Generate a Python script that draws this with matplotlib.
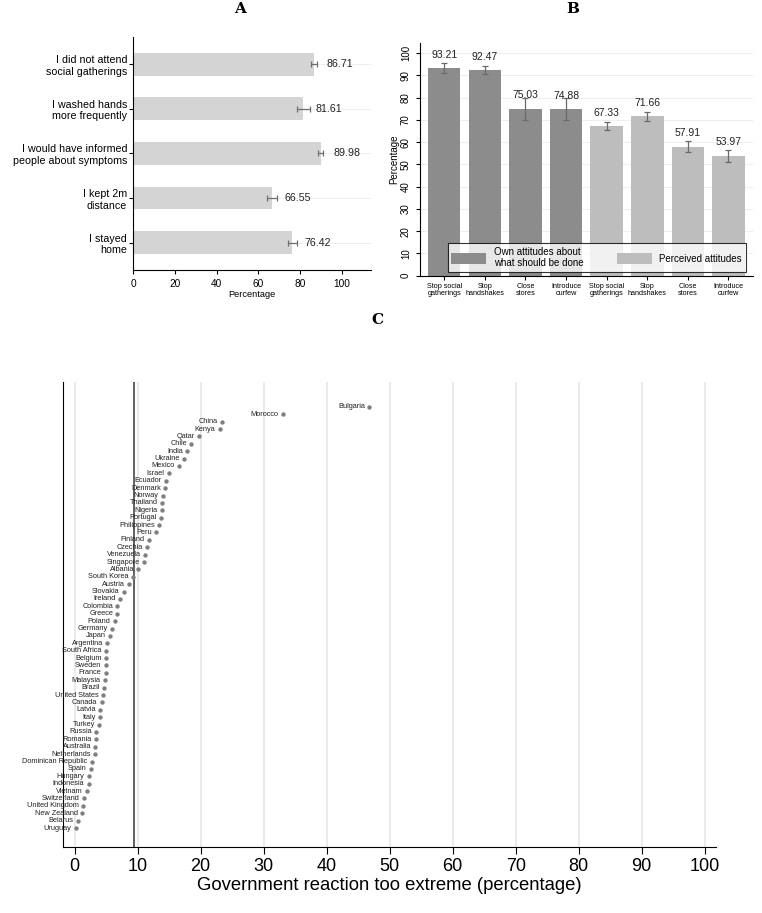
import matplotlib
matplotlib.use("Agg")
import matplotlib.pyplot as plt
import numpy as np

plt.rcParams["font.family"] = ["Liberation Sans", "DejaVu Sans"]

# Panel A: self-reported behaviour
behaviours = ["I did not attend\nsocial gatherings", "I washed hands\nmore frequently",
              "I would have informed\npeople about symptoms", "I kept 2m\ndistance",
              "I stayed\nhome"]
behaviour_pct = [86.71, 81.61, 89.98, 66.55, 76.42]
behaviour_err = [1.4, 3.2, 1.2, 2.6, 2.1]

# Panel B: own vs perceived attitudes
measures = ["Stop social\ngatherings", "Stop\nhandshakes", "Close\nstores", "Introduce\ncurfew"]
own_pct = [93.21, 92.47, 75.03, 74.88]
own_err = [2.2, 1.9, 5.0, 5.0]
perceived_pct = [67.33, 71.66, 57.91, 53.97]
perceived_err = [1.8, 2.0, 2.5, 2.7]

# Panel C: share saying government reaction too extreme, by country
countries = ["Bulgaria", "Morocco", "China", "Kenya", "Qatar", "Chile", "India", "Ukraine",
             "Mexico", "Israel", "Ecuador", "Denmark", "Norway", "Thailand", "Nigeria",
             "Portugal", "Philippines", "Peru", "Finland", "Czechia", "Venezuela",
             "Singapore", "Albania", "South Korea", "Austria", "Slovakia", "Ireland",
             "Colombia", "Greece", "Poland", "Germany", "Japan", "Argentina",
             "South Africa", "Belgium", "Sweden", "France", "Malaysia", "Brazil",
             "United States", "Canada", "Latvia", "Italy", "Turkey", "Russia", "Romania",
             "Australia", "Netherlands", "Dominican Republic", "Spain", "Hungary",
             "Indonesia", "Vietnam", "Switzerland", "United Kingdom", "New Zealand",
             "Belarus", "Uruguay"]
extreme_pct = [46.8, 33.0, 23.4, 23.0, 19.8, 18.5, 17.9, 17.4,
               16.6, 14.9, 14.5, 14.4, 14.0, 13.9, 13.8,
               13.7, 13.4, 12.9, 11.8, 11.5, 11.2,
               11.0, 10.1, 9.3, 8.6, 7.8, 7.2,
               6.8, 6.8, 6.4, 5.9, 5.6, 5.2,
               5.0, 5.0, 4.9, 4.9, 4.8, 4.7,
               4.5, 4.3, 4.1, 4.1, 3.9, 3.4, 3.4,
               3.3, 3.2, 2.7, 2.6, 2.2,
               2.2, 1.9, 1.5, 1.3, 1.2,
               0.5, 0.15]
extreme_mean = 9.35

fig = plt.figure(figsize=(7.62, 9.13), dpi=100)
title_font = dict(family="DejaVu Serif", weight="bold", fontsize=11)

# ---------------- Panel A ----------------
axA = fig.add_axes([0.175, 0.7043, 0.3115, 0.2552])
ypos = np.arange(len(behaviours), 0, -1)
axA.barh(ypos, behaviour_pct, height=0.51, color="#d4d4d4", zorder=2)
axA.errorbar(behaviour_pct, ypos, xerr=behaviour_err, fmt="none", ecolor="#6e6e6e",
             elinewidth=0.9, capsize=2.5, capthick=0.9, zorder=3)
for y, v in zip(ypos, behaviour_pct):
    axA.text(v + 6, y, f"{v:.2f}", va="center", ha="left", fontsize=7.7, color="#222222")
axA.set_yticks(ypos)
axA.set_yticklabels(behaviours, fontsize=7.7)
axA.set_ylim(0.39, 5.61)
axA.set_xlim(0, 114)
axA.set_xticks([0, 20, 40, 60, 80, 100])
axA.tick_params(axis="x", labelsize=7.3, length=3)
axA.tick_params(axis="y", length=3, pad=1.5)
axA.set_xlabel("Percentage", fontsize=6.7, labelpad=1)
axA.grid(axis="y", color="#eeeeee", linewidth=0.8, zorder=0)
for s in ["top", "right"]:
    axA.spines[s].set_visible(False)
fig.text(240 / 762, 1 - 9 / 913, "A", ha="center", va="center", **title_font)

# ---------------- Panel B ----------------
axB = fig.add_axes([0.551, 0.698, 0.437, 0.255])
n = len(measures)
xo = np.arange(1, n + 1)
xp = np.arange(n + 1, 2 * n + 1)
axB.bar(xo, own_pct, width=0.8, color="#8c8c8c", zorder=2,
        label="Own attitudes about\nwhat should be done")
axB.bar(xp, perceived_pct, width=0.8, color="#bdbdbd", zorder=2,
        label="Perceived attitudes")
axB.errorbar(xo, own_pct, yerr=own_err, fmt="none", ecolor="#6a6a6a",
             elinewidth=0.9, capsize=2.5, capthick=0.9, zorder=3)
axB.errorbar(xp, perceived_pct, yerr=perceived_err, fmt="none", ecolor="#6a6a6a",
             elinewidth=0.9, capsize=2.5, capthick=0.9, zorder=3)
for x, v in zip(np.concatenate([xo, xp]), own_pct + perceived_pct):
    axB.text(x, v + 6, f"{v:.2f}", ha="center", va="center", fontsize=7.5, color="#222222")
axB.set_xticks(np.concatenate([xo, xp]))
axB.set_xticklabels(measures + measures, fontsize=5.2, linespacing=1.0)
axB.set_xlim(0.4, 8.6)
axB.set_ylim(0, 104.6)
axB.set_yticks(np.arange(0, 101, 10))
axB.tick_params(axis="y", labelsize=7, length=3, labelrotation=90)
for lab in axB.get_yticklabels():
    lab.set_va("center")
axB.tick_params(axis="x", length=3, pad=2)
axB.set_ylabel("Percentage", fontsize=7, labelpad=1)
axB.grid(axis="y", color="#eeeeee", linewidth=0.8, zorder=0)
for s in ["top", "right"]:
    axB.spines[s].set_visible(False)
leg = axB.legend(loc="lower left", bbox_to_anchor=(0.083, 0.015, 0.896, 0.117),
                 mode="expand", ncol=2, fontsize=7, frameon=True, fancybox=False,
                 edgecolor="black", handlelength=3.6, handleheight=1.4,
                 borderaxespad=0, columnspacing=1.5, labelspacing=0.1)
leg.get_frame().set_linewidth(0.8)
leg.set_zorder(5)
fig.text(573 / 762, 1 - 9 / 913, "B", ha="center", va="center", **title_font)

# ---------------- Panel C ----------------
axC = fig.add_axes([0.0831, 0.0720, 0.8565, 0.5099])
yc = np.arange(len(countries), 0, -1)
axC.scatter(extreme_pct, yc, s=10, color="#7f7f7f", zorder=3, linewidths=0)
for x, y, name in zip(extreme_pct, yc, countries):
    axC.text(x - 0.7, y, name, ha="right", va="center", fontsize=5.3, color="#222222", zorder=4)
axC.axvline(extreme_mean, color="#555555", linewidth=1.3, zorder=2)
axC.set_xlim(-1.8, 101.8)
axC.set_ylim(1 - 2.6, len(countries) + 3.4)
axC.set_xticks(np.arange(0, 101, 10))
axC.set_yticks([])
axC.tick_params(axis="x", labelsize=13, length=5, pad=3)
axC.set_xlabel("Government reaction too extreme (percentage)", fontsize=13.3, labelpad=1)
axC.grid(axis="x", color="#e6e6e6", linewidth=1.2, zorder=0)
for s in ["top", "right"]:
    axC.spines[s].set_visible(False)
fig.text(377 / 762, 1 - 320 / 913, "C", ha="center", va="center", **title_font)

fig.savefig("out.png", dpi=100)
